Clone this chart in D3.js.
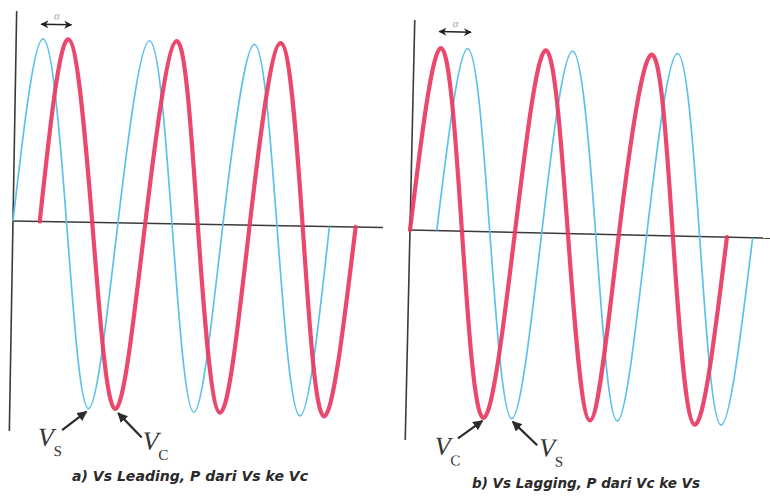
<!DOCTYPE html>
<html>
<head>
<meta charset="utf-8">
<script src="https://cdn.jsdelivr.net/npm/d3@7"></script>
<style>
  body { margin: 0; background: #fff; }
  svg { display: block; }
</style>
</head>
<body>
<svg id="chart" width="770" height="497"></svg>
<script>
// Key points of each waveform: time in ms (50 Hz supply), voltage in per-unit.
// Panel (a): Vs leading Vc
const tVsA = [0, 5.1, 10.2, 15.0, 20.0, 25.4, 30.3, 35.1, 40.0, 45.4, 50.3, 55.3, 60.3];
const vVsA = [0, 1.00, 0, -1.02, 0, 1.00, 0, -1.03, 0, 0.99, 0, -1.04, 0];
const tVcA = [5.1, 9.9, 15.1, 20.1, 25.2, 30.6, 35.2, 40.1, 45.1, 50.4, 55.2, 59.9, 65.3];
const vVcA = [0, 1.00, 0, -1.02, 0, 1.00, 0, -1.03, 0, 1.00, 0, -1.04, 0];

// Panel (b): Vs lagging Vc
const tVcB = [0, 5.1, 9.9, 14.8, 20.0, 25.1, 30.1, 35.1, 39.8, 45.3, 50.1, 55.1, 60.4];
const vVcB = [0, 1.00, 0, -1.02, 0, 1.00, 0, -1.02, 0, 0.99, 0, -1.03, 0];
const tVsB = [5.1, 10.2, 15.2, 20.2, 25.1, 30.2, 35.4, 40.3, 45.1, 50.2, 55.2, 60.1, 65.3];
const vVsB = [0, 1.00, 0, -1.02, 0, 1.00, 0, -1.02, 0, 1.00, 0, -1.03, 0];

const captions = ["a) Vs Leading, P dari Vs ke Vc", "b) Vs Lagging, P dari Vc ke Vs"];

const zip = (t, v) => t.map((d, i) => ({ t: d, v: v[i] }));

const svg = d3.select("#chart");

// arrow heads
const defs = svg.append("defs");
defs.append("marker")
  .attr("id", "head").attr("viewBox", "0 0 10 10")
  .attr("refX", 9).attr("refY", 5)
  .attr("markerWidth", 10).attr("markerHeight", 10)
  .attr("markerUnits", "userSpaceOnUse")
  .attr("orient", "auto-start-reverse")
  .append("path").attr("d", "M0,0 L10,5 L0,10 Z").attr("fill", "#2b2b2b");
defs.append("marker")
  .attr("id", "headSmall").attr("viewBox", "0 0 10 10")
  .attr("refX", 9).attr("refY", 5)
  .attr("markerWidth", 8).attr("markerHeight", 8)
  .attr("markerUnits", "userSpaceOnUse")
  .attr("orient", "auto-start-reverse")
  .append("path").attr("d", "M0,0 L10,5 L0,10 L3,5 Z").attr("fill", "#222");

const x = d3.scaleLinear().domain([0, 70.5]).range([0, 370]);
const y = d3.scaleLinear().domain([-1.15, 1.15]).range([210, -210]);

const line = d3.line()
  .x(d => x(d.t))
  .y(d => y(d.v))
  .curve(d3.curveNatural);

const BLUE = "#5cc2ea";
const RED = "#e8385f";

function panel(opts) {
  const g = svg.append("g")
    .attr("transform", `translate(${opts.ox},${opts.oy}) rotate(${opts.rot})`);

  // axes
  g.append("line")
    .attr("x1", 0).attr("x2", 0)
    .attr("y1", y(opts.yTop)).attr("y2", y(-opts.yTop))
    .attr("stroke", "#3a3a3a").attr("stroke-width", 1.6);
  g.append("line")
    .attr("x1", 0).attr("x2", x(opts.xEnd))
    .attr("y1", y(0)).attr("y2", y(0))
    .attr("stroke", "#3a3a3a").attr("stroke-width", 1.6);

  // Vs: thin blue, Vc: thick red
  g.append("path").datum(opts.vs)
    .attr("d", line).attr("fill", "none")
    .attr("stroke", BLUE).attr("stroke-width", 1.7);
  g.append("path").datum(opts.vc)
    .attr("d", line).attr("fill", "none")
    .attr("stroke", RED).attr("stroke-width", 4.2)
    .attr("stroke-opacity", 0.92).attr("stroke-linecap", "round");

  // phase angle between the first peaks
  const first = opts.lead[1], second = opts.lag[1];
  const ay = y(opts.alphaV);
  g.append("line")
    .attr("x1", x(first.t) - 2).attr("x2", x(second.t) + 3)
    .attr("y1", ay).attr("y2", ay)
    .attr("stroke", "#222").attr("stroke-width", 1.6)
    .attr("marker-start", "url(#headSmall)")
    .attr("marker-end", "url(#headSmall)");
  g.append("text")
    .attr("x", (x(first.t) + x(second.t)) / 2 + 1).attr("y", ay - 5)
    .attr("text-anchor", "middle")
    .attr("font-family", "Liberation Serif, serif").attr("font-style", "italic")
    .attr("font-size", 11).attr("fill", "#b89aa2")
    .text("α");

  // curve labels pointing at the first troughs
  opts.labels.forEach(l => {
    const p = l.series[3];
    const hx = x(p.t) + l.head[0], hy = y(p.v) + l.head[1];
    const tx = hx + l.tail[0], ty = hy + l.tail[1];
    g.append("line")
      .attr("x1", tx).attr("y1", ty).attr("x2", hx).attr("y2", hy)
      .attr("stroke", "#2b2b2b").attr("stroke-width", 2.2)
      .attr("marker-end", "url(#head)");
    g.append("text")
      .attr("x", tx + l.v[0]).attr("y", ty + l.v[1])
      .attr("font-family", "Liberation Serif, serif").attr("font-style", "italic")
      .attr("font-size", 26).attr("fill", "#333")
      .text("V");
    g.append("text")
      .attr("x", tx + l.v[0] + 16).attr("y", ty + l.v[1] + 10)
      .attr("font-family", "Liberation Serif, serif")
      .attr("font-size", 15).attr("fill", "#333")
      .text(l.subText);
  });

  svg.append("text")
    .attr("x", opts.cap[0]).attr("y", opts.cap[1])
    .attr("font-family", "DejaVu Sans, sans-serif")
    .attr("font-weight", "bold").attr("font-style", "oblique")
    .attr("font-size", 13.5).attr("fill", "#2a2a2a")
    .attr("textLength", opts.capW).attr("lengthAdjust", "spacingAndGlyphs")
    .text(opts.caption);
}

const vsA = zip(tVsA, vVsA), vcA = zip(tVcA, vVcA);
const vsB = zip(tVsB, vVsB), vcB = zip(tVcB, vVcB);

panel({
  ox: 13, oy: 221, rot: 1.0, yTop: 1.15, xEnd: 70.5,
  vs: vsA, vc: vcA, lead: vsA, lag: vcA, alphaV: 1.08,
  labels: [
    { series: vsA, head: [-2, 3], tail: [-24, 19], v: [-24, 16], subText: "S" },
    { series: vcA, head: [3, 4], tail: [24, 24], v: [1, 12], subText: "C" }
  ],
  cap: [72, 481], capW: 236, caption: captions[0]
});

panel({
  ox: 410, oy: 230, rot: 1.3, yTop: 1.15, xEnd: 72,
  vs: vsB, vc: vcB, lead: vcB, lag: vsB, alphaV: 1.09,
  labels: [
    { series: vcB, head: [-1, 3], tail: [-24, 18], v: [-23, 17], subText: "C" },
    { series: vsB, head: [1, 3], tail: [25, 23], v: [2, 11], subText: "S" }
  ],
  cap: [472, 488], capW: 228, caption: captions[1]
});
</script>
</body>
</html>
